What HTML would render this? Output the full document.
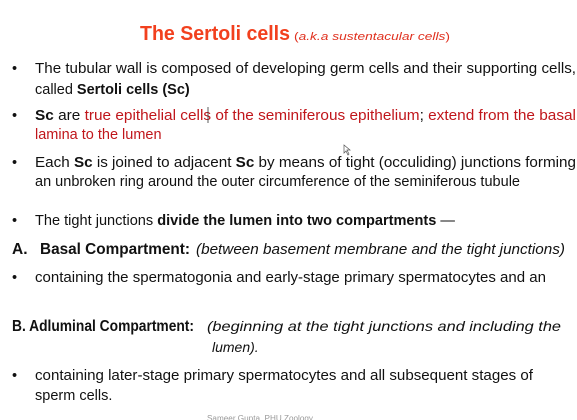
<!DOCTYPE html>
<html><head><meta charset="utf-8"><style>
html,body{margin:0;padding:0;background:#fff;width:577px;height:420px;overflow:hidden}
svg{display:block;font-family:"Liberation Sans",sans-serif}
.t{font-size:14.5px;fill:#111}
.r{fill:#c0161b}
.b{font-weight:bold}
.i{font-style:italic}
</style></head><body>
<svg width="577" height="420" viewBox="0 0 577 420">
<text x="140" y="40" font-size="20" font-weight="bold" fill="#f2401e" textLength="150" lengthAdjust="spacingAndGlyphs">The Sertoli cells</text>
<text x="294" y="40" font-size="11" fill="#e0301e" textLength="156" lengthAdjust="spacingAndGlyphs">(<tspan class="i">a.k.a sustentacular cells</tspan>)</text>

<g class="t">
<text x="12" y="73">•</text>
<text x="35" y="73" textLength="541" lengthAdjust="spacingAndGlyphs">The tubular wall is composed of developing germ cells and their supporting cells,</text>
<text x="35" y="94">called <tspan class="b">Sertoli cells (Sc)</tspan></text>
</g>
<g class="t">
<text x="12" y="120">•</text>
<text x="35" y="120" textLength="541" lengthAdjust="spacingAndGlyphs"><tspan class="b">Sc</tspan> are <tspan class="r">true epithelial cells of the seminiferous epithelium</tspan>; <tspan class="r">extend from the basal</tspan></text>
<text x="35" y="139" class="r">lamina to the lumen</text>
</g>
<line x1="208" y1="107" x2="208" y2="123" stroke="#333" stroke-width="0.8"/>
<path d="M344 145 L344 153 L346 151 L348 155 L349 154 L347 150 L350 150 Z" fill="#fff" stroke="#555" stroke-width="0.7"/>
<g class="t">
<text x="12" y="167">•</text>
<text x="35" y="167" textLength="541" lengthAdjust="spacingAndGlyphs">Each <tspan class="b">Sc</tspan> is joined to adjacent <tspan class="b">Sc</tspan> by means of tight (occuliding) junctions forming</text>
<text x="35" y="186" textLength="485" lengthAdjust="spacingAndGlyphs">an unbroken ring around the outer circumference of the seminiferous tubule</text>
</g>
<g class="t">
<text x="12" y="225">•</text>
<text x="35" y="225" textLength="420" lengthAdjust="spacingAndGlyphs">The tight junctions <tspan class="b">divide the lumen into two compartments</tspan>  —</text>
</g>
<g>
<text x="12" y="254" font-size="15.5" font-weight="bold" fill="#111">A.</text>
<text x="40" y="254" font-size="15.5" font-weight="bold" fill="#111" textLength="150" lengthAdjust="spacingAndGlyphs">Basal Compartment:</text>
<text x="196" y="254" font-size="14.5" font-style="italic" fill="#111" textLength="369" lengthAdjust="spacingAndGlyphs">(between basement membrane and the tight junctions)</text>
</g>
<g class="t">
<text x="12" y="282">•</text>
<text x="35" y="282" textLength="511" lengthAdjust="spacingAndGlyphs">containing the spermatogonia and early-stage primary spermatocytes and an</text>
</g>
<g>
<text x="12" y="331" font-size="15.5" font-weight="bold" fill="#111" textLength="182" lengthAdjust="spacingAndGlyphs">B. Adluminal Compartment:</text>
<text x="207" y="331" font-size="14" font-style="italic" fill="#111" textLength="354" lengthAdjust="spacingAndGlyphs">(beginning at the tight junctions and including the</text>
<text x="212" y="352" font-size="14" font-style="italic" fill="#111">lumen).</text>
</g>
<g class="t">
<text x="12" y="380">•</text>
<text x="35" y="380" textLength="498" lengthAdjust="spacingAndGlyphs">containing later-stage primary  spermatocytes and all subsequent stages of</text>
<text x="35" y="400">sperm cells.</text>
</g>
<text x="207" y="421" font-size="8" fill="#999" textLength="106" lengthAdjust="spacingAndGlyphs">Sameer Gupta, PHU Zoology</text>
</svg>
</body></html>
